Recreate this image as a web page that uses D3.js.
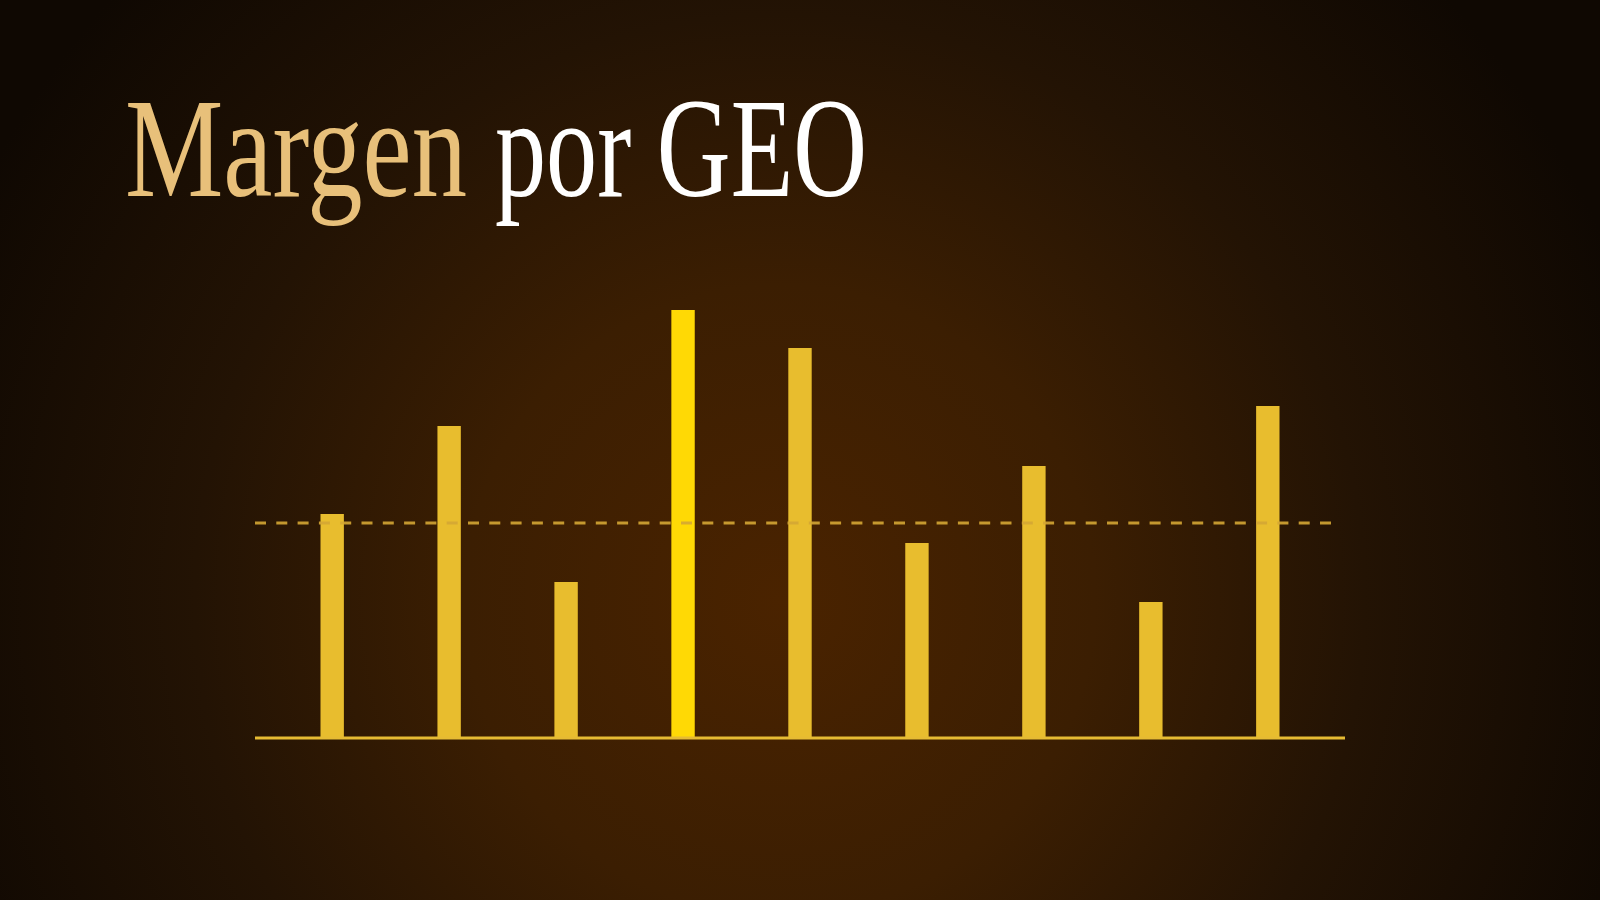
<!DOCTYPE html>
<html>
<head>
<meta charset="utf-8">
<script src="https://cdn.jsdelivr.net/npm/d3@7"></script>
<style>
  html, body { margin: 0; padding: 0; background: #120a02; }
  svg { display: block; }
</style>
</head>
<body>
<div id="chart"></div>
<script>
// Data (margin per region, arbitrary % units)
var regions = ['G1', 'G2', 'G3', 'G4', 'G5', 'G6', 'G7', 'G8', 'G9']
var margins = [11.2, 15.6, 7.8, 21.4, 19.5, 9.75, 13.6, 6.8, 16.6]
var target = 10.75
var highlight = 'G4'

var titleParts = ['Margen', 'por GEO']

var svgWidth = 1600
var svgHeight = 900

var svg = d3.select('#chart')
      .append('svg')
      .attr('width', svgWidth)
      .attr('height', svgHeight)

// Background glow
var defs = svg.append('defs')
var glow = defs.append('radialGradient')
      .attr('id', 'bg')
      .attr('gradientUnits', 'userSpaceOnUse')
      .attr('cx', 780)
      .attr('cy', 600)
      .attr('r', 900)
glow.append('stop').attr('offset', '0%').attr('stop-color', '#4a2300')
glow.append('stop').attr('offset', '35%').attr('stop-color', '#3b1e02')
glow.append('stop').attr('offset', '65%').attr('stop-color', '#231304')
glow.append('stop').attr('offset', '100%').attr('stop-color', '#0f0802')

svg.append('rect')
      .attr('width', svgWidth)
      .attr('height', svgHeight)
      .attr('fill', 'url(#bg)')

// Title, two pieces, each squeezed to the condensed width of the original
var titleSpots = [
      { x: 125, w: 342, fill: '#e8c07a' },
      { x: 495, w: 372, fill: '#ffffff' }
]

titleParts.forEach((t, i) => {
      var spot = titleSpots[i]
      var txt = svg.append('text')
            .style('font-family', '"Liberation Serif", "DejaVu Serif", serif')
            .style('font-size', '142px')
            .attr('fill', spot.fill)
            .text(t)
      var w = txt.node().getComputedTextLength()
      txt.attr('transform', `translate(${spot.x}, 196) scale(${spot.w / w}, 1)`)
})

// Chart area
var x0 = 255, x1 = 1345
var baseY = 738

var xScale = d3.scaleBand()
      .domain(regions)
      .range([x0, x1])
      .paddingInner(0.8)
      .paddingOuter(0.56)

var yScale = d3.scaleLinear()
      .domain([0, 25])
      .range([baseY, baseY - 500])

var chartGroup = svg.append('g')

chartGroup.selectAll('rect.bar')
      .data(regions)
      .enter()
      .append('rect')
      .attr('class', 'bar')
      .attr('x', d => xScale(d))
      .attr('width', xScale.bandwidth())
      .attr('y', (d, i) => yScale(margins[i]))
      .attr('height', (d, i) => baseY - yScale(margins[i]))
      .attr('fill', d => d === highlight ? '#ffd905' : '#e8bd2e')

// Baseline
chartGroup.append('line')
      .attr('x1', x0)
      .attr('x2', x1)
      .attr('y1', baseY)
      .attr('y2', baseY)
      .attr('stroke', '#e6bb33')
      .attr('stroke-width', 3)

// Target line
chartGroup.append('line')
      .attr('x1', x0)
      .attr('x2', x1 - 5)
      .attr('y1', yScale(target))
      .attr('y2', yScale(target))
      .attr('stroke', '#d4a634')
      .attr('stroke-opacity', 0.9)
      .attr('stroke-width', 3)
      .attr('stroke-dasharray', '11 10.3')
</script>
</body>
</html>
